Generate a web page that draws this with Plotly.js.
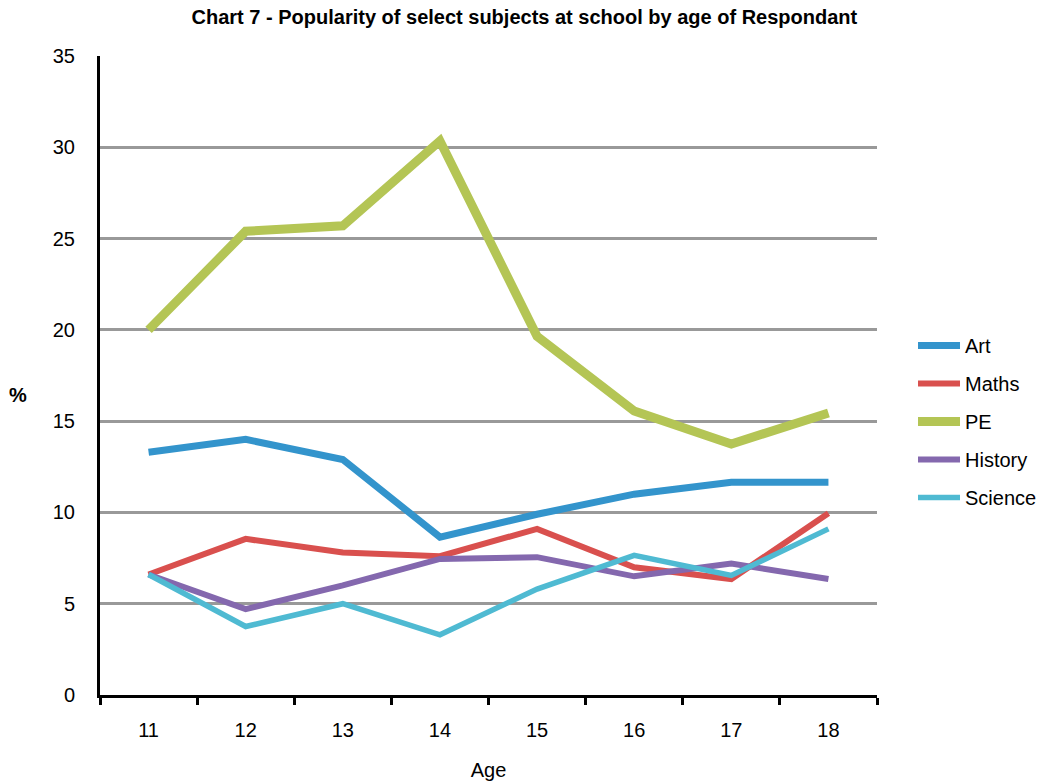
<!DOCTYPE html>
<html>
<head>
<meta charset="utf-8">
<script src="https://cdn.plot.ly/plotly-3.0.1.min.js"></script>
<style>html,body{margin:0;padding:0;background:#fff;}#chart{width:1053px;height:784px;}</style>
</head>
<body>
<div id="chart"></div>
<script>
const ages = ["11","12","13","14","15","16","17","18"];
const art = [13.3, 14.0, 12.9, 8.65, 9.9, 11.0, 11.65, 11.65];
const maths = [6.6, 8.55, 7.8, 7.6, 9.1, 7.0, 6.35, 9.95];
const pe = [20.0, 25.4, 25.7, 30.35, 19.65, 15.55, 13.75, 15.45];
const history = [6.6, 4.7, 6.0, 7.45, 7.55, 6.5, 7.2, 6.35];
const science = [6.6, 3.75, 5.0, 3.3, 5.8, 7.65, 6.55, 9.1];
const yTicks = [0, 5, 10, 15, 20, 25, 30, 35];

const series = [
  {name: "Art", y: art, color: "#3394CC", w: 7},
  {name: "Maths", y: maths, color: "#D9504E", w: 6},
  {name: "PE", y: pe, color: "#B4C555", w: 9},
  {name: "History", y: history, color: "#8468AE", w: 6},
  {name: "Science", y: science, color: "#4FBAD2", w: 5.5}
];

const traces = series.map(s => ({
  type: "scatter", mode: "lines", x: ages, y: s.y, name: s.name,
  legendgroup: s.name,
  line: {color: s.color, width: s.w}
}));

const font = {family: "Liberation Sans, Arial, sans-serif", size: 20, color: "#000"};

const layout = {
  width: 1053, height: 784,
  margin: {l: 100, r: 175, t: 56, b: 89},
  paper_bgcolor: "#fff", plot_bgcolor: "#fff",
  font: font,
  title: {text: "<b>Chart 7 - Popularity of select subjects at school by age of Respondant</b>",
    x: 0.498, y: 0.978, yanchor: "middle",
    font: {family: "Liberation Sans, Arial, sans-serif", size: 20, color: "#000"}},
  xaxis: {type: "category", range: [-0.5, 7.5], tickson: "boundaries",
    ticks: "outside", ticklen: 7, tickwidth: 3, tickcolor: "#000",
    showline: true, linecolor: "#000", linewidth: 3, showgrid: false, zeroline: false,
    ticklabelstandoff: 15, tickfont: font,
    title: {text: "Age", standoff: 23, font: font}},
  yaxis: {range: [0, 35], tickvals: yTicks, ticks: "", showline: true, linecolor: "#000", linewidth: 3,
    showgrid: true, gridcolor: "#999", gridwidth: 3, zeroline: false,
    ticklabelstandoff: 18, tickfont: font, fixedrange: true},
  legend: {x: 1.045, xanchor: "left", y: 0.428, yanchor: "middle",
    traceorder: "grouped", tracegroupgap: 9, itemwidth: 42, font: font, bgcolor: "rgba(0,0,0,0)"},
  annotations: [{text: "<b>%</b>", xref: "paper", yref: "paper", x: -0.105, y: 0.47,
    showarrow: false, font: font, xanchor: "center", yanchor: "middle"}],
  showlegend: true
};

Plotly.newPlot("chart", traces, layout, {displayModeBar: false, staticPlot: true});
</script>
</body>
</html>
